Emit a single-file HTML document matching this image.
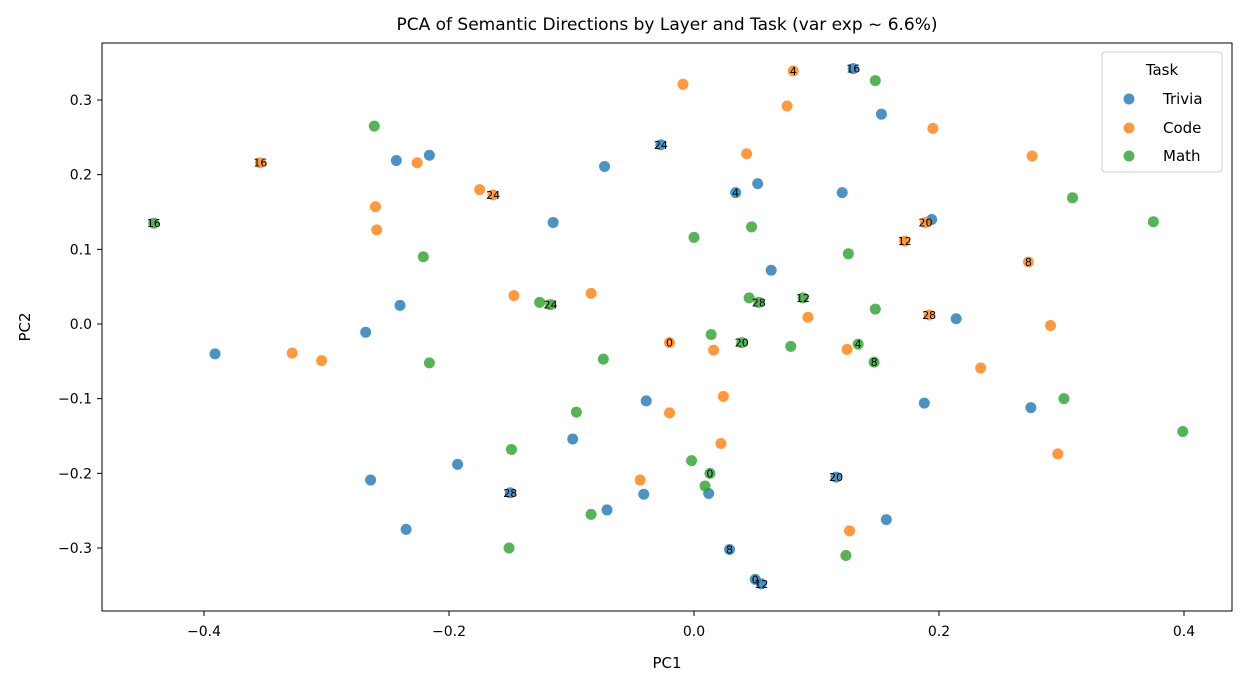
<!DOCTYPE html>
<html><head><meta charset="utf-8"><style>
body{margin:0;background:#fff}
svg{display:block;font-family:"DejaVu Sans","Liberation Sans",sans-serif}
</style></head><body>
<svg id="chart" width="1245" height="685">
<rect x="0" y="0" width="1245" height="685" fill="#fff"/>
<text x="667" y="30" text-anchor="middle" font-size="17">PCA of Semantic Directions by Layer and Task (var exp ~ 6.6%)</text>
<g id="marks"></g>
<rect x="102" y="43" width="1130" height="568" fill="none" stroke="#000" stroke-width="1"/>
<g id="axes"></g>
<text x="667" y="668" text-anchor="middle" font-size="15">PC1</text>
<text transform="translate(30,327) rotate(-90)" text-anchor="middle" font-size="15">PC2</text>
<g>
<rect x="1102" y="52" width="120" height="120" rx="3" fill="#fff" fill-opacity="0.8" stroke="#ccc"/>
<text x="1162" y="75" text-anchor="middle" font-size="15">Task</text>
<g><circle cx="1129" cy="99" r="5.5" fill="#1f77b4" fill-opacity="0.8"/><text x="1163" y="104" font-size="15">Trivia</text></g>
<g><circle cx="1129" cy="128" r="5.5" fill="#ff7f0e" fill-opacity="0.8"/><text x="1163" y="133" font-size="15">Code</text></g>
<g><circle cx="1129" cy="156" r="5.5" fill="#2ca02c" fill-opacity="0.8"/><text x="1163" y="161" font-size="15">Math</text></g>
</g>
</svg>
<script>
const triviaX=[0.130,0.153,0.052,0.034,0.121,0.194,0.063,0.214,0.188,0.275,0.116,0.012,0.157,0.029,0.050,0.055,-0.216,-0.243,-0.073,-0.027,-0.115,-0.240,-0.268,-0.391,-0.039,-0.099,-0.193,-0.264,-0.150,-0.041,-0.071,-0.235];
const triviaY=[0.342,0.281,0.188,0.176,0.176,0.140,0.072,0.007,-0.106,-0.112,-0.205,-0.227,-0.262,-0.302,-0.342,-0.348,0.226,0.219,0.211,0.240,0.136,0.025,-0.011,-0.040,-0.103,-0.154,-0.188,-0.209,-0.226,-0.228,-0.249,-0.275];
const triviaL=["16","","","4","","","","","","","20","","","8","0","12","","","","24","","","","","","","","","28","","",""];
const codeX=[0.081,-0.009,0.076,0.195,0.043,0.276,0.189,0.172,0.273,0.093,0.192,0.291,-0.020,0.016,0.125,0.234,0.024,-0.020,0.022,0.297,0.127,-0.354,-0.226,-0.175,-0.164,-0.260,-0.259,-0.147,-0.084,-0.328,-0.304,-0.044];
const codeY=[0.339,0.321,0.292,0.262,0.228,0.225,0.136,0.111,0.083,0.009,0.012,-0.002,-0.025,-0.035,-0.034,-0.059,-0.097,-0.119,-0.160,-0.174,-0.277,0.216,0.216,0.180,0.173,0.157,0.126,0.038,0.041,-0.039,-0.049,-0.209];
const codeL=["4","","","","","","20","12","8","","28","","0","","","","","","","","","16","","","24","","","","","","",""];
const mathX=[0.148,0.309,0.375,0.047,0.000,0.126,0.045,0.053,0.089,0.148,0.014,0.039,0.079,0.134,0.147,0.302,0.399,-0.002,0.013,0.009,0.124,-0.261,-0.221,-0.441,-0.126,-0.117,-0.216,-0.074,-0.096,-0.149,-0.084,-0.151];
const mathY=[0.326,0.169,0.137,0.130,0.116,0.094,0.035,0.029,0.035,0.020,-0.014,-0.025,-0.030,-0.027,-0.051,-0.100,-0.144,-0.183,-0.200,-0.217,-0.310,0.265,0.090,0.135,0.029,0.026,-0.052,-0.047,-0.118,-0.168,-0.255,-0.300];
const mathL=["","","","","","","","28","12","","","20","","4","8","","","","0","","","","","16","","24","","","","","",""];
const xTicks=[-0.4,-0.2,0.0,0.2,0.4];
const xTickLabels=["−0.4","−0.2","0.0","0.2","0.4"];
const yTicks=[-0.3,-0.2,-0.1,0.0,0.1,0.2,0.3];
const yTickLabels=["−0.3","−0.2","−0.1","0.0","0.1","0.2","0.3"];

const NS="http://www.w3.org/2000/svg";
function sx(v){return 694+v*1225;}
function sy(v){return 324-v*746.7;}
const marks=document.getElementById('marks');
const axes=document.getElementById('axes');
function mk(tag,attrs,parent){const e=document.createElementNS(NS,tag);for(const k in attrs)e.setAttribute(k,attrs[k]);parent.appendChild(e);return e;}

xTicks.forEach((t,i)=>{
  const x=sx(t);
  const l=mk('line',{x1:x,x2:x,y1:611,y2:616,stroke:'#000'},axes);
  
  
  const tx=mk('text',{x:x,y:636,'text-anchor':'middle','font-size':14},axes);
  tx.textContent=xTickLabels[i];
  
  
});
yTicks.forEach((t,i)=>{
  const y=sy(t);
  const l=mk('line',{x1:97,x2:102,y1:y,y2:y,stroke:'#000'},axes);
  
  
  const tx=mk('text',{x:92,y:y+5,'text-anchor':'end','font-size':14},axes);
  tx.textContent=yTickLabels[i];
  
  
});

const series=[["trivia",triviaX,triviaY,triviaL,"#1f77b4"],["code",codeX,codeY,codeL,"#ff7f0e"],["math",mathX,mathY,mathL,"#2ca02c"]];
series.forEach(s=>{
  const [name,xs,ys,ls,col]=s;
  xs.forEach((v,i)=>{
    const c=mk('circle',{cx:sx(v),cy:sy(ys[i]),r:5.5,fill:col,'fill-opacity':0.8},marks);
    
    
  });
});
series.forEach(s=>{
  const [name,xs,ys,ls]=s;
  xs.forEach((v,i)=>{
    if(!ls[i])return;
    const t=mk('text',{x:sx(v),y:sy(ys[i])+4,'text-anchor':'middle','font-size':11,fill:'#000'},marks);
    t.textContent=ls[i];
    
    
  });
});
</script>
</body></html>
